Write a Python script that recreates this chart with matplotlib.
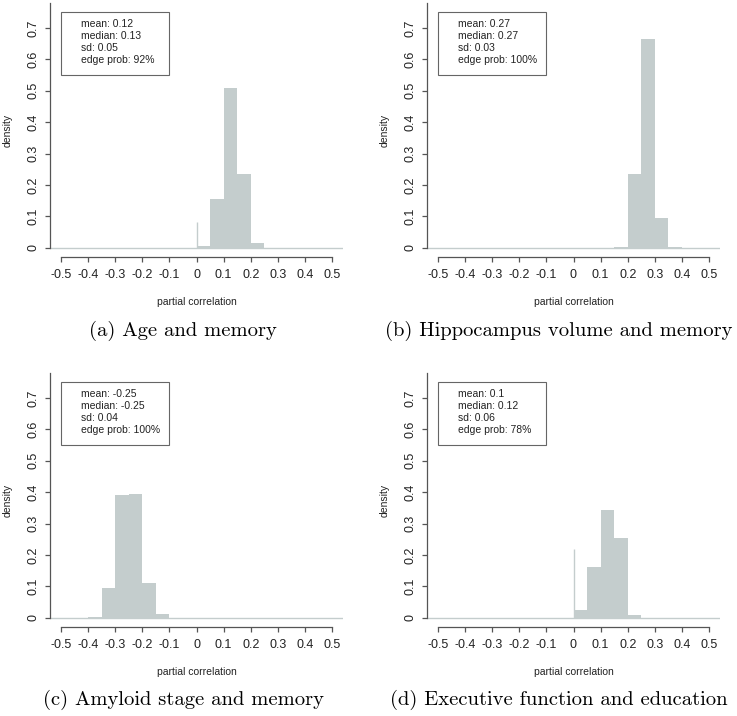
import numpy as np
import matplotlib
matplotlib.use("Agg")
import matplotlib.pyplot as plt
from matplotlib.patches import Rectangle

# probability per bin of width 0.05, only non-zero bins listed
age_bins = [0.0, 0.05, 0.10, 0.15, 0.20]
age_vals = [0.005, 0.155, 0.51, 0.236, 0.014]
age_spike = 0.082

hip_bins = [0.15, 0.20, 0.25, 0.30, 0.35]
hip_vals = [0.003, 0.234, 0.666, 0.095, 0.001]
hip_spike = 0.0

amy_bins = [-0.40, -0.35, -0.30, -0.25, -0.20, -0.15]
amy_vals = [0.003, 0.094, 0.392, 0.395, 0.11, 0.011]
amy_spike = 0.0

exe_bins = [0.0, 0.05, 0.10, 0.15, 0.20]
exe_vals = [0.023, 0.162, 0.342, 0.253, 0.008]
exe_spike = 0.219

stats = [
    ["mean: 0.12", "median: 0.13", "sd: 0.05", "edge prob: 92%"],
    ["mean: 0.27", "median: 0.27", "sd: 0.03", "edge prob: 100%"],
    ["mean: -0.25", "median: -0.25", "sd: 0.04", "edge prob: 100%"],
    ["mean: 0.1", "median: 0.12", "sd: 0.06", "edge prob: 78%"],
]
captions = ["(a) Age and memory", "(b) Hippocampus volume and memory",
            "(c) Amyloid stage and memory", "(d) Executive function and education"]

xticks = [-0.5, -0.4, -0.3, -0.2, -0.1, 0, 0.1, 0.2, 0.3, 0.4, 0.5]
xtick_labels = ["-0.5", "-0.4", "-0.3", "-0.2", "-0.1", "0", "0.1", "0.2", "0.3", "0.4", "0.5"]
yticks = [0, 0.1, 0.2, 0.3, 0.4, 0.5, 0.6, 0.7]
ytick_labels = ["0", "0.1", "0.2", "0.3", "0.4", "0.5", "0.6", "0.7"]

bar_color = "#c4cdcd"
axis_color = "#555555"
text_color = "#222222"

W, H = 737, 716
fig = plt.figure(figsize=(W / 100, H / 100), dpi=100)
plt.rcParams["font.family"] = ["Liberation Sans", "DejaVu Sans"]

# panel boxes in pixels: (left, top)
panel_pos = [(50, 3), (427, 3), (50, 373), (427, 373)]
pw, ph = 293, 254
caption_pos = [(183, 331), (559, 331), (183, 700), (559, 700)]

data = [(age_bins, age_vals, age_spike), (hip_bins, hip_vals, hip_spike),
        (amy_bins, amy_vals, amy_spike), (exe_bins, exe_vals, exe_spike)]

for i, ((left, top), (bins, vals, spike)) in enumerate(zip(panel_pos, data)):
    ax = fig.add_axes([left / W, 1 - (top + ph) / H, pw / W, ph / H])
    ax.set_xlim(-0.54, 0.54)
    ax.set_ylim(-0.03, 0.78)

    ax.axhline(0, color=bar_color, lw=1.0, zorder=1)
    ax.bar(bins, vals, width=0.05, align="edge", color=bar_color,
           edgecolor="none", zorder=2)
    if spike > 0:
        ax.vlines(0, 0, spike, color=bar_color, lw=1.0, zorder=2)

    for s in ["top", "right"]:
        ax.spines[s].set_visible(False)
    ax.spines["left"].set_bounds(0, 0.78)
    ax.spines["bottom"].set_bounds(-0.5, 0.5)
    for s in ["left", "bottom"]:
        ax.spines[s].set_color(axis_color)
        ax.spines[s].set_linewidth(0.9)

    ax.set_xticks(xticks)
    ax.set_xticklabels(xtick_labels)
    ax.set_yticks(yticks)
    ax.set_yticklabels(ytick_labels, rotation=90, va="center")
    ax.tick_params(axis="both", length=3.5, width=0.9, color=axis_color,
                   labelsize=9, labelcolor=text_color)
    ax.tick_params(axis="x", pad=5)
    ax.tick_params(axis="y", pad=4)

    # stats box
    ax.add_patch(Rectangle((-0.5, 0.551), 0.4, 0.2, fill=False,
                           edgecolor="#666666", lw=0.8, zorder=3))
    for j, line in enumerate(stats[i]):
        ax.text(-0.426, 0.702 - j * 0.0383, line, fontsize=7.5,
                color=text_color, va="baseline", ha="left")

    fig.text((left - 42) / W, 1 - (top + 127) / H, "density", rotation=90,
             fontsize=7.5, color=text_color, ha="center", va="center")
    fig.text((left + pw / 2) / W, 1 - (top + 299) / H, "partial correlation",
             fontsize=7.5, color=text_color, ha="center", va="center")

    cx, cy = caption_pos[i]
    fig.text(cx / W, 1 - cy / H, captions[i], family="cmr10", fontsize=14.8,
             ha="center", va="center", color="black")

fig.savefig("out.png", dpi=100)
